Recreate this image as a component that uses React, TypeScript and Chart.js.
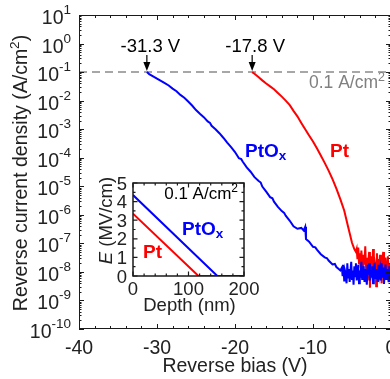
import React, { useEffect, useRef } from "react";
import { Chart, registerables } from "chart.js";

Chart.register(...registerables);

const FONT = '"Liberation Sans", Arial, Helvetica, sans-serif';

// ---------- Main chart data (reverse bias V, log10 of current density A/cm^2) ----------
const ptoxBias = [
  -31.3, -31.0, -30.5, -30.0, -29.5, -29.0, -28.5, -28.0, -27.5, -27.0, -26.5, -26.0, -25.5, -25.0,
  -24.5, -24.0, -23.5, -23.2, -23.0, -22.5, -22.0, -21.5, -21.0, -20.5, -20.0, -19.5, -19.2, -19.0, -18.5,
  -18.0, -17.5, -17.0, -16.7, -16.5, -16.0, -15.5, -15.2, -15.0, -14.5, -14.0, -13.7, -13.5, -13.0, -12.5, -12.0, -11.5,
  -11.2, -11.0, -10.9, -10.5, -10.0, -9.7, -9.5, -9.0, -8.5, -8.2, -8.0, -7.5, -7.2, -7.0, -6.7, -6.5,
  -6.3, -6.2, -6.1, -6.0, -5.9, -5.8, -5.7, -5.6, -5.5, -5.4, -5.3, -5.2, -5.1, -5.0, -4.9, -4.8,
  -4.7, -4.6, -4.5, -4.4, -4.3, -4.2, -4.1, -4.0, -3.9, -3.8, -3.7, -3.6, -3.5, -3.4, -3.3, -3.2,
  -3.1, -3.0, -2.9, -2.8, -2.7, -2.6, -2.5, -2.4, -2.3, -2.2, -2.1, -2.0, -1.9, -1.8, -1.7, -1.6,
  -1.5, -1.4, -1.3, -1.2, -1.1, -1.0, -0.9, -0.8, -0.7, -0.6, -0.5, -0.4, -0.3, -0.2, -0.1, 0.0,
];
const ptoxLogJ = [
  -1.0, -1.07, -1.15, -1.23, -1.31, -1.39, -1.47, -1.58, -1.67, -1.8, -1.9, -2.03, -2.17, -2.33,
  -2.46, -2.58, -2.73, -2.78, -2.88, -3.0, -3.14, -3.3, -3.47, -3.63, -3.8, -4.02, -4.05, -4.14, -4.34,
  -4.49, -4.68, -4.81, -4.87, -5.01, -5.19, -5.38, -5.42, -5.54, -5.72, -5.87, -5.93, -6.03, -6.2, -6.4, -6.49, -6.46,
  -6.55, -6.42, -6.85, -6.94, -7.12, -7.14, -7.22, -7.38, -7.49, -7.52, -7.6, -7.74, -7.72, -7.83, -7.9, -7.95,
  -7.85, -8.15, -7.75, -8.3, -7.95, -8.05, -8.4, -7.7, -8.2, -7.9, -8.35, -8.0, -7.65, -8.25, -7.95, -8.45,
  -7.8, -8.15, -7.7, -8.3, -8.05, -7.75, -8.4, -7.95, -8.2, -7.65, -8.25, -8.0, -7.8, -8.35, -7.9, -8.15,
  -8.45, -7.75, -8.1, -7.7, -8.3, -7.95, -8.2, -7.8, -8.4, -8.0, -7.68, -8.25, -7.9, -8.15, -8.35, -7.75,
  -8.1, -7.9, -8.3, -7.7, -8.2, -7.85, -8.42, -8.02, -7.74, -8.28, -7.9, -8.16, -8.36, -7.8, -8.1, -7.96,
];

const ptBias = [
  -17.8, -17.5, -17.0, -16.5, -16.0, -15.5, -15.0, -14.5, -14.0, -13.5, -13.0, -12.5, -12.0, -11.5,
  -11.0, -10.5, -10.0, -9.5, -9.0, -8.5, -8.0, -7.5, -7.0, -6.5, -6.0, -5.5, -5.0, -4.7, -4.5,
  -4.4, -4.3, -4.2, -4.1, -4.0, -3.9, -3.8, -3.7, -3.6, -3.5, -3.4, -3.3, -3.2, -3.1, -3.0, -2.9,
  -2.8, -2.7, -2.6, -2.5, -2.4, -2.3, -2.2, -2.1, -2.0, -1.9, -1.8, -1.7, -1.6, -1.5, -1.4, -1.3,
  -1.2, -1.1, -1.0, -0.9, -0.8, -0.7, -0.6, -0.5, -0.4, -0.3, -0.2, -0.1, 0.0,
];
const ptLogJ = [
  -1.0, -1.06, -1.17, -1.29, -1.4, -1.5, -1.6, -1.73, -1.86, -2.0, -2.15, -2.36, -2.55, -2.78,
  -3.0, -3.22, -3.43, -3.67, -3.92, -4.18, -4.45, -4.75, -5.08, -5.45, -5.85, -6.42, -6.98, -7.2, -7.3,
  -7.2, -7.55, -7.15, -7.7, -7.35, -7.85, -7.25, -7.6, -8.1, -7.4, -7.75, -7.1, -7.95, -7.5, -8.3, -7.65,
  -7.3, -8.55, -7.8, -7.45, -7.9, -7.2, -8.2, -7.6, -7.75, -8.5, -7.35, -7.85, -7.55, -8.05, -7.4, -7.95,
  -8.4, -7.65, -7.3, -7.9, -8.15, -7.5, -7.8, -8.0, -7.45, -8.25, -7.7, -7.95, -7.6,
];

const xMajorTicks = [-40, -30, -20, -10, 0];
const yDecadeExponents = [-10, -9, -8, -7, -6, -5, -4, -3, -2, -1, 0, 1];
const thresholdJ = 0.1;
const onsetPtox = -31.3;
const onsetPt = -17.8;

// ---------- Inset data (depth nm, field MV/cm) ----------
const insetPtoxDepth = [0, 152, 200];
const insetPtoxField = [4.35, 0, 0];
const insetPtDepth = [0, 118, 200];
const insetPtField = [3.35, 0, 0];
const insetXTicks = [0, 100, 200];
const insetYTicks = [0, 1, 2, 3, 4, 5];

type Part = { t: string; size: number; dy?: number; bold?: boolean; italic?: boolean; color?: string };

function fontOf(p: Part) {
  return `${p.italic ? "italic " : ""}${p.bold ? "bold " : ""}${p.size}px ${FONT}`;
}

function drawRich(ctx: CanvasRenderingContext2D, x: number, y: number, parts: Part[], align: "left" | "center" | "right", color = "#000") {
  let total = 0;
  const widths = parts.map((p) => {
    ctx.font = fontOf(p);
    const w = ctx.measureText(p.t).width;
    total += w;
    return w;
  });
  let cx = align === "center" ? x - total / 2 : align === "right" ? x - total : x;
  ctx.textAlign = "left";
  ctx.textBaseline = "alphabetic";
  parts.forEach((p, i) => {
    ctx.font = fontOf(p);
    ctx.fillStyle = p.color || color;
    ctx.fillText(p.t, cx, y + (p.dy || 0));
    cx += widths[i];
  });
}

function drawArrow(ctx: CanvasRenderingContext2D, x: number, yTop: number, yTip: number) {
  ctx.save();
  ctx.strokeStyle = "#000";
  ctx.fillStyle = "#000";
  ctx.lineWidth = 1.2;
  ctx.beginPath();
  ctx.moveTo(x, yTop);
  ctx.lineTo(x, yTip - 6);
  ctx.stroke();
  ctx.beginPath();
  ctx.moveTo(x, yTip);
  ctx.lineTo(x - 3.5, yTip - 9);
  ctx.lineTo(x + 3.5, yTip - 9);
  ctx.closePath();
  ctx.fill();
  ctx.restore();
}

const mainDecor = {
  id: "mainDecor",
  beforeDatasetsDraw(chart: any) {
    const { ctx, chartArea: a, scales } = chart;
    const y = scales.y.getPixelForValue(thresholdJ);
    ctx.save();
    ctx.strokeStyle = "#8a8a8a";
    ctx.lineWidth = 1.5;
    ctx.setLineDash([8, 5]);
    ctx.beginPath();
    ctx.moveTo(a.left, y);
    ctx.lineTo(a.right, y);
    ctx.stroke();
    ctx.restore();
  },
  afterDraw(chart: any) {
    const { ctx, chartArea: a, scales } = chart;
    const xs = scales.x;
    const ys = scales.y;
    ctx.save();
    ctx.strokeStyle = "#1a1a1a";
    ctx.lineWidth = 1;
    ctx.strokeRect(a.left + 0.5, a.top + 0.5, a.right - a.left - 1, a.bottom - a.top - 1);

    // x ticks
    ctx.beginPath();
    for (let v = -40; v <= 0; v += 2) {
      const px = Math.round(xs.getPixelForValue(v)) + 0.5;
      const len = v % 10 === 0 ? 5 : 3;
      ctx.moveTo(px, a.bottom);
      ctx.lineTo(px, a.bottom - len);
      ctx.moveTo(px, a.top);
      ctx.lineTo(px, a.top + len);
    }
    // y ticks
    yDecadeExponents.forEach((e) => {
      const py = Math.round(ys.getPixelForValue(Math.pow(10, e))) + 0.5;
      ctx.moveTo(a.left, py);
      ctx.lineTo(a.left + 5, py);
      ctx.moveTo(a.right, py);
      ctx.lineTo(a.right - 5, py);
      if (e < 1) {
        for (let m = 2; m <= 9; m++) {
          const pm = Math.round(ys.getPixelForValue(m * Math.pow(10, e))) + 0.5;
          ctx.moveTo(a.left, pm);
          ctx.lineTo(a.left + 2.5, pm);
          ctx.moveTo(a.right, pm);
          ctx.lineTo(a.right - 2.5, pm);
        }
      }
    });
    ctx.stroke();

    // x tick labels
    xMajorTicks.forEach((v) => {
      drawRich(ctx, xs.getPixelForValue(v), 354, [{ t: String(v), size: 19.5 }], "center", "#222");
    });
    // y tick labels
    yDecadeExponents.forEach((e) => {
      const py = ys.getPixelForValue(Math.pow(10, e));
      drawRich(ctx, 71, py + 9, [
        { t: "10", size: 19.5 },
        { t: String(e), size: 13.5, dy: -10 },
      ], "right", "#222");
    });

    // axis titles
    drawRich(ctx, (a.left + 391) / 2, 372, [{ t: "Reverse bias (V)", size: 19.5 }], "center", "#222");
    ctx.save();
    ctx.translate(27, (a.top + a.bottom) / 2 + 1);
    ctx.rotate(-Math.PI / 2);
    drawRich(ctx, 0, 0, [
      { t: "Reverse current density (A/cm", size: 19.5 },
      { t: "2", size: 13.5, dy: -8 },
      { t: ")", size: 19.5 },
    ], "center", "#222");
    ctx.restore();

    // threshold annotation
    const yT = ys.getPixelForValue(thresholdJ);
    drawRich(ctx, 385, yT + 16, [
      { t: "0.1 A/cm", size: 17.5 },
      { t: "2", size: 12.5, dy: -7 },
    ], "right", "#808080");

    // onset arrows
    const xa = xs.getPixelForValue(onsetPtox);
    const xb = xs.getPixelForValue(onsetPt);
    drawArrow(ctx, xa, 55, yT - 1);
    drawArrow(ctx, xb, 55, yT - 1);
    drawRich(ctx, xa + 3.5, 51.5, [{ t: `${onsetPtox} V`, size: 18.5 }], "center", "#000");
    drawRich(ctx, xb + 3, 51.5, [{ t: `${onsetPt} V`, size: 18.5 }], "center", "#000");

    // series labels
    drawRich(ctx, 245, 156.5, [
      { t: "PtO", size: 19, bold: true },
      { t: "x", size: 13.5, bold: true, dy: 3 },
    ], "left", "#0000ff");
    drawRich(ctx, 330, 156.5, [{ t: "Pt", size: 19, bold: true }], "left", "#ff0000");
    ctx.restore();
  },
};

const insetDecor = {
  id: "insetDecor",
  afterDraw(chart: any) {
    const { ctx, chartArea: a, scales } = chart;
    const xs = scales.x;
    const ys = scales.y;
    ctx.save();
    ctx.strokeStyle = "#1a1a1a";
    ctx.lineWidth = 1.5;
    ctx.strokeRect(a.left, a.top, a.right - a.left, a.bottom - a.top);
    ctx.lineWidth = 1.2;
    ctx.beginPath();
    for (let v = 0; v <= 200; v += 20) {
      const px = xs.getPixelForValue(v);
      const len = v % 100 === 0 ? 4.5 : 2.5;
      ctx.moveTo(px, a.bottom);
      ctx.lineTo(px, a.bottom - len);
      ctx.moveTo(px, a.top);
      ctx.lineTo(px, a.top + len);
    }
    for (let v = 0; v <= 5; v += 0.5) {
      const py = ys.getPixelForValue(v);
      const len = v % 1 === 0 ? 4.5 : 2.5;
      ctx.moveTo(a.left, py);
      ctx.lineTo(a.left + len, py);
      ctx.moveTo(a.right, py);
      ctx.lineTo(a.right - len, py);
    }
    ctx.stroke();

    insetXTicks.forEach((v) => {
      drawRich(ctx, xs.getPixelForValue(v), a.bottom + 19, [{ t: String(v), size: 18.5 }], "center", "#222");
    });
    insetYTicks.forEach((v) => {
      drawRich(ctx, a.left - 6, ys.getPixelForValue(v) + 6.5, [{ t: String(v), size: 18.5 }], "right", "#222");
    });
    drawRich(ctx, (a.left + a.right) / 2 + 1, a.bottom + 35, [{ t: "Depth (nm)", size: 18.5 }], "center", "#222");
    ctx.save();
    ctx.translate(a.left - 21, (a.top + a.bottom) / 2 - 9);
    ctx.rotate(-Math.PI / 2);
    drawRich(ctx, 0, 0, [
      { t: "E", size: 18.5, italic: true },
      { t: " (MV/cm)", size: 18.5 },
    ], "center", "#222");
    ctx.restore();

    drawRich(ctx, a.right - 6, a.top + 16, [
      { t: "0.1 A/cm", size: 17 },
      { t: "2", size: 12, dy: -7 },
    ], "right", "#000");
    drawRich(ctx, a.left + 49, a.top + 52, [
      { t: "PtO", size: 19, bold: true },
      { t: "x", size: 13.5, bold: true, dy: 3 },
    ], "left", "#0000ff");
    drawRich(ctx, a.left + 10, a.top + 75, [{ t: "Pt", size: 19, bold: true }], "left", "#ff0000");
    ctx.restore();
  },
};

function toPoints(xs: number[], logs: number[]) {
  return xs.map((x, i) => ({ x, y: Math.pow(10, logs[i]) }));
}
function toLinPoints(xs: number[], ys: number[]) {
  return xs.map((x, i) => ({ x, y: ys[i] }));
}

export default function App() {
  const mainRef = useRef<HTMLCanvasElement>(null);
  const insetRef = useRef<HTMLCanvasElement>(null);

  useEffect(() => {
    const main = new Chart(mainRef.current as HTMLCanvasElement, {
      type: "scatter",
      data: {
        datasets: [
          {
            data: toPoints(ptoxBias, ptoxLogJ),
            showLine: true,
            borderColor: "#0000ff",
            borderWidth: 2,
            pointRadius: 0,
            fill: false,
            tension: 0,
          },
          {
            data: toPoints(ptBias, ptLogJ),
            showLine: true,
            borderColor: "#ff0000",
            borderWidth: 2,
            pointRadius: 0,
            fill: false,
            tension: 0,
          },
        ],
      },
      options: {
        responsive: false,
        animation: false,
        events: [],
        layout: { padding: { left: 79, top: 15, right: 9, bottom: 50 } },
        scales: {
          x: { type: "linear", min: -40, max: 0, display: false },
          y: { type: "logarithmic", min: 1e-10, max: 10, display: false },
        },
        plugins: { legend: { display: false }, tooltip: { enabled: false } },
      },
      plugins: [mainDecor],
    } as any);

    const inset = new Chart(insetRef.current as HTMLCanvasElement, {
      type: "scatter",
      data: {
        datasets: [
          {
            data: toLinPoints(insetPtoxDepth, insetPtoxField),
            showLine: true,
            borderColor: "#0000ff",
            borderWidth: 2,
            pointRadius: 0,
            fill: false,
          },
          {
            data: toLinPoints(insetPtDepth, insetPtField),
            showLine: true,
            borderColor: "#ff0000",
            borderWidth: 2,
            pointRadius: 0,
            fill: false,
          },
        ],
      },
      options: {
        responsive: false,
        animation: false,
        events: [],
        layout: { padding: { left: 38, top: 18, right: 31, bottom: 39 } },
        scales: {
          x: { type: "linear", min: 0, max: 200, display: false },
          y: { type: "linear", min: 0, max: 5, display: false },
        },
        plugins: { legend: { display: false }, tooltip: { enabled: false } },
      },
      plugins: [insetDecor],
    } as any);

    return () => {
      main.destroy();
      inset.destroy();
    };
  }, []);

  return (
    <div style={{ position: "fixed", left: 0, top: 0, width: 390, height: 379, overflow: "hidden", background: "#fff" }}>
      <canvas ref={mainRef} width={400} height={379} style={{ position: "absolute", left: 0, top: 0, width: 400, height: 379 }} />
      <canvas ref={insetRef} width={180} height={150} style={{ position: "absolute", left: 95, top: 165, width: 180, height: 150 }} />
    </div>
  );
}
